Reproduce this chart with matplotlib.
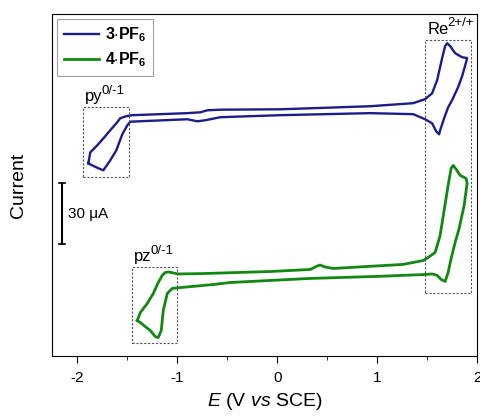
import numpy as np
import matplotlib.pyplot as plt

plt.rcParams['font.family'] = ['Liberation Sans', 'DejaVu Sans']
plt.rcParams['mathtext.fontset'] = 'custom'
plt.rcParams['mathtext.rm'] = 'Liberation Sans'
plt.rcParams['mathtext.it'] = 'Liberation Sans:italic'
plt.rcParams['mathtext.bf'] = 'Liberation Sans:bold'

# CV of 3·PF6 (closed loop, potential in V vs SCE, current in uA, offset for display)
E3 = [-1.89, -1.87, -1.80, -1.73, -1.67, -1.61, -1.57, -1.51, -1.45, -1.17, -0.90, -0.77,
      -0.70, -0.57, 0.03, 0.93, 1.36, 1.48, 1.55, 1.60, 1.65, 1.68, 1.70, 1.73, 1.78, 1.85,
      1.90, 1.89, 1.85, 1.81, 1.75, 1.71, 1.67, 1.63, 1.62, 1.59, 1.55, 1.48, 1.36, 0.93,
      0.03, -0.57, -0.72, -0.80, -0.90, -1.47, -1.50, -1.55, -1.61, -1.67, -1.74, -1.79,
      -1.85, -1.89]
I3 = [18.2, 23.6, 27.1, 31.0, 34.5, 37.9, 40.4, 41.4, 41.9, 42.4, 42.9, 43.3,
      44.3, 44.6, 44.8, 46.3, 47.8, 49.8, 52.7, 59.1, 70.0, 75.9, 77.3, 75.9, 72.4, 70.4,
      70.0, 68.0, 61.1, 55.7, 49.3, 45.8, 40.4, 34.5, 32.5, 34.0, 37.9, 39.9, 42.4, 42.9,
      41.9, 40.9, 39.4, 38.9, 39.9, 38.7, 36.9, 32.5, 24.6, 19.7, 14.8, 15.8,
      17.2, 18.2]

# CV of 4·PF6
E4 = [-1.40, -1.37, -1.30, -1.24, -1.19, -1.15, -1.12, -1.09, -0.99, -0.74, -0.07, 0.33,
      0.39, 0.43, 0.48, 0.56, 1.26, 1.46, 1.51, 1.58, 1.63, 1.67, 1.71, 1.74, 1.76, 1.79,
      1.83, 1.89, 1.90, 1.87, 1.82, 1.78, 1.74, 1.71, 1.68, 1.64, 1.60, 1.55, 1.46, 1.00,
      0.33, -0.47, -0.64, -0.97, -1.05, -1.10, -1.14, -1.16, -1.19, -1.22, -1.27, -1.32,
      -1.37, -1.40]
I4 = [-59.1, -55.2, -50.7, -45.8, -40.4, -36.9, -35.5, -35.2, -36.2, -36.0, -35.0, -34.0,
      -32.5, -31.8, -32.8, -33.5, -31.5, -29.6, -28.1, -25.6, -17.2, -4.9, 7.4, 15.8, 17.2, 15.3,
      12.3, 10.8, 8.4, -2.5, -13.8, -20.7, -28.6, -35.5, -39.9, -38.9, -36.9, -36.2, -36.5, -37.4,
      -38.4, -40.4, -41.4, -42.9, -43.3, -45.8, -54.2, -64.0, -67.5, -67.0, -64.0, -62.1,
      -60.1, -59.1]

# dashed boxes around the redox waves: (E left, E right, I bottom, I top, label, superscript)
boxes = [(-1.94, -1.48, 11.3, 45.8, 'py', '0/-1'),
         (1.48, 1.94, -45.8, 78.8, 'Re', '2+/+'),
         (-1.45, -1.00, -70.0, -33.0, 'pz', '0/-1')]

fig = plt.figure(figsize=(4.8, 4.16), dpi=100)
ax = fig.add_axes([0.109, 0.145, 0.885, 0.821])

ax.plot(E3, I3, color='#1c1c8a', lw=1.7, label=r'$\mathbf{3{\cdot}PF_6}$')
ax.plot(E4, I4, color='#118811', lw=2.0, label=r'$\mathbf{4{\cdot}PF_6}$')

ax.set_xlim(-2.25, 2.0)
ax.set_ylim(-76.4, 91.6)

labels = []
for x0, x1, y0, y1, base, sup in boxes:
    ax.plot([x0, x1, x1, x0, x0], [y0, y0, y1, y1, y0], color='#555555', lw=0.8,
            ls=(0, (2, 1.5)))
    t = ax.text(x0 + 0.02, y1 + 1.5, base, fontsize=12, ha='left', va='bottom')
    labels.append((t, sup))

# superscripts placed right after the base text
fig.canvas.draw()
r = fig.canvas.get_renderer()
for t, sup in labels:
    bb = t.get_window_extent(r)
    ax.annotate(sup, xy=(bb.x1, bb.y0), xycoords='figure pixels',
                xytext=(-0.8, 5.5), textcoords='offset points', fontsize=9.5,
                ha='left', va='bottom')

# scale bar 30 uA
ax.plot([-2.15, -2.15], [-21.7, 8.3], color='k', lw=1.5)
ax.plot([-2.18, -2.12], [8.3, 8.3], color='k', lw=1.2)
ax.plot([-2.18, -2.12], [-21.7, -21.7], color='k', lw=1.2)
ax.text(-2.09, -6.7, '30 \u03bcA', fontsize=11, va='center', ha='left')

ax.set_xticks([-2, -1, 0, 1, 2])
ax.set_xticklabels(['-2', '-1', '0', '1', '2'])
ax.set_xticks(np.arange(-2, 2.01, 0.5), minor=True)
ax.set_yticks([])
ax.tick_params(axis='x', direction='out', length=5, labelsize=11, pad=6)
ax.tick_params(axis='x', which='minor', direction='out', length=3)
ax.set_xlabel('$E$ (V $vs$ SCE)', fontsize=14, labelpad=4)
ax.set_ylabel('Current', fontsize=14, labelpad=18)

leg = ax.legend(loc='upper left', fontsize=11.5, frameon=True, fancybox=False,
                edgecolor='#888888', handlelength=2.2, borderaxespad=0.3,
                handletextpad=0.4, labelspacing=0.4)
leg.get_frame().set_linewidth(0.8)

plt.savefig('out.png')
